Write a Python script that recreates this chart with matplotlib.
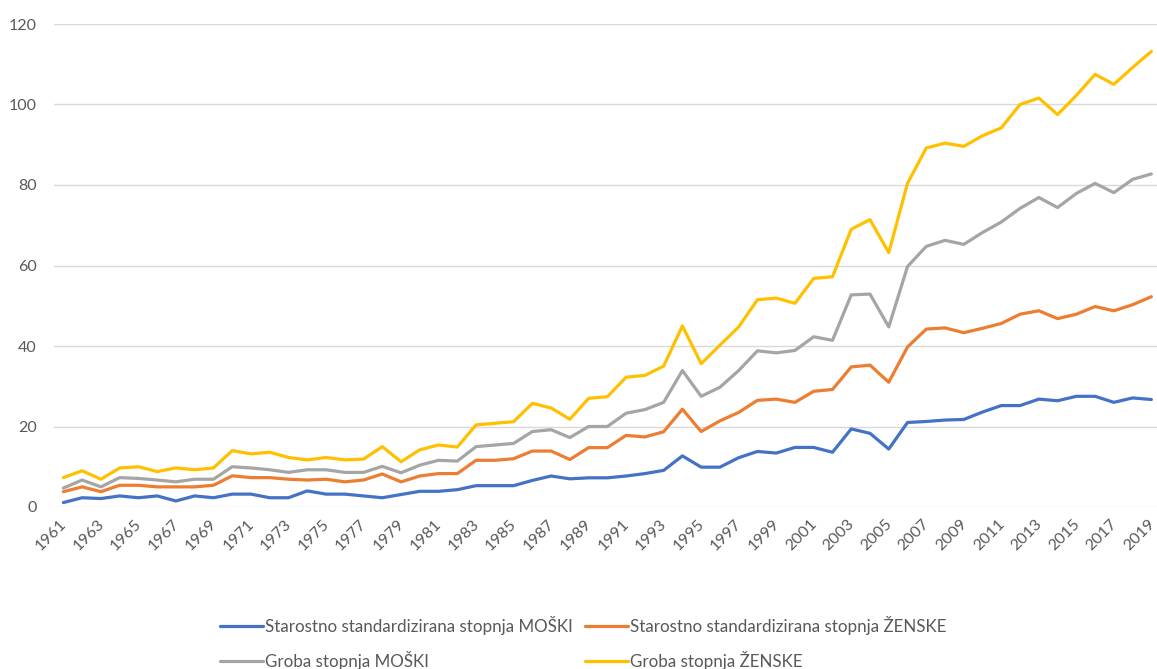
import numpy as np
import matplotlib.pyplot as plt
from matplotlib.transforms import ScaledTranslation

years = list(range(1961, 2020))

std_moski = [1.1, 2.3, 2.1, 2.75, 2.3, 2.75, 1.5, 2.75, 2.3, 3.2,
             3.2, 2.3, 2.3, 4.0, 3.2, 3.2, 2.75, 2.3, 3.1, 3.9,
             3.9, 4.3, 5.3, 5.3, 5.3, 6.6, 7.7, 7.0, 7.25, 7.25,
             7.7, 8.3, 9.1, 12.7, 9.9, 9.9, 12.25, 13.8, 13.4, 14.8,
             14.8, 13.6, 19.4, 18.3, 14.4, 21.0, 21.25, 21.6, 21.75, 23.6,
             25.2, 25.2, 26.8, 26.4, 27.5, 27.5, 26.0, 27.1, 26.7]

std_zenske = [3.8, 5.0, 3.8, 5.4, 5.4, 5.0, 5.0, 5.0, 5.4, 7.75,
              7.3, 7.3, 6.9, 6.7, 6.9, 6.25, 6.7, 8.2, 6.25, 7.7,
              8.3, 8.3, 11.6, 11.6, 12.0, 13.9, 13.9, 11.8, 14.75, 14.75,
              17.8, 17.4, 18.7, 24.3, 18.75, 21.4, 23.5, 26.5, 26.8, 26.0,
              28.75, 29.2, 34.8, 35.25, 31.0, 39.75, 44.2, 44.5, 43.3, 44.4,
              45.6, 47.9, 48.75, 46.8, 47.9, 49.8, 48.75, 50.25, 52.25]

groba_moski = [4.7, 6.7, 5.0, 7.3, 7.1, 6.7, 6.25, 6.9, 6.9, 10.0,
               9.7, 9.25, 8.6, 9.25, 9.25, 8.6, 8.6, 10.1, 8.5, 10.4,
               11.6, 11.4, 15.0, 15.4, 15.8, 18.75, 19.2, 17.25, 20.0, 20.0,
               23.3, 24.2, 26.0, 33.9, 27.5, 29.75, 33.9, 38.8, 38.3, 38.9,
               42.3, 41.4, 52.7, 52.9, 44.75, 59.75, 64.75, 66.25, 65.25, 68.2,
               70.8, 74.2, 76.9, 74.4, 77.9, 80.4, 78.1, 81.4, 82.75]

groba_zenske = [7.3, 9.0, 6.9, 9.7, 10.0, 8.8, 9.7, 9.25, 9.7, 14.0,
                13.2, 13.6, 12.3, 11.7, 12.3, 11.7, 11.9, 15.0, 11.25, 14.2,
                15.4, 14.9, 20.4, 20.8, 21.2, 25.75, 24.6, 21.8, 27.0, 27.4,
                32.25, 32.7, 35.0, 45.0, 35.6, 40.2, 44.75, 51.5, 51.9, 50.6,
                56.8, 57.2, 69.0, 71.4, 63.2, 80.4, 89.2, 90.4, 89.6, 92.25,
                94.2, 100.0, 101.6, 97.5, 102.25, 107.5, 105.0, 109.2, 113.2]

labels = ["Starostno standardizirana stopnja MOŠKI",
          "Starostno standardizirana stopnja ŽENSKE",
          "Groba stopnja MOŠKI",
          "Groba stopnja ŽENSKE"]
colors = ["#4472C4", "#ED7D31", "#A5A5A5", "#FFC000"]

plt.rcParams['font.family'] = ['Lato', 'DejaVu Sans']

fig = plt.figure(figsize=(11.57, 6.69), dpi=100)
ax = fig.add_axes([54 / 1157, 162 / 669, 1103 / 1157, 483 / 669])

series = [std_moski, std_zenske, groba_moski, groba_zenske]
lines = []
for vals, col, lab in zip(series, colors, labels):
    ln, = ax.plot(years, vals, color=col, lw=2.3, label=lab,
                  solid_joinstyle='round', solid_capstyle='round')
    lines.append(ln)

ax.set_xlim(1960.5, 2019.3)
ax.set_ylim(0, 120)
ax.set_yticks(np.arange(0, 121, 20))
ax.set_xticks(years[::2])
ax.set_xticklabels([str(y) for y in years[::2]], rotation=45, ha='right',
                   rotation_mode='anchor')
ax.tick_params(axis='both', length=0, labelsize=11.5, labelcolor='#595959')
ax.tick_params(axis='x', pad=7)
ax.tick_params(axis='y', pad=12.5)
ax.grid(axis='y', color='#D9D9D9', lw=1)
ax.set_axisbelow(True)
for s in ax.spines.values():
    s.set_visible(False)

# nudge year labels a little left so the last one stays inside
shift = ScaledTranslation(-4 / 100, 0, fig.dpi_scale_trans)
for t in ax.get_xticklabels():
    t.set_transform(t.get_transform() + shift)

# column-first fill: blue, gray | orange, yellow
order = [0, 2, 1, 3]
fig.legend([lines[i] for i in order], [labels[i] for i in order],
           ncol=2, loc='center', bbox_to_anchor=(0.5043, 0.0389),
           frameon=False, fontsize=12.25, handlelength=2.55,
           handletextpad=0.12, columnspacing=0.7, labelspacing=0.9,
           labelcolor='#595959', borderpad=0, borderaxespad=0)

fig.savefig('out.png', dpi=100)
